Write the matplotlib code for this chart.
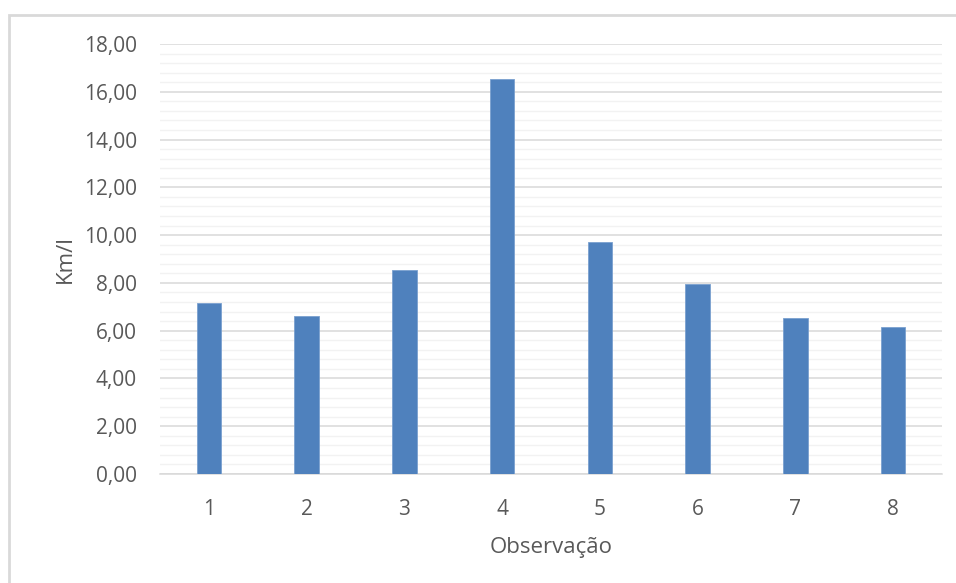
import matplotlib.pyplot as plt
from matplotlib.patches import Rectangle
from matplotlib.ticker import MultipleLocator, FuncFormatter

# Consumo por observação
observacoes = ['1', '2', '3', '4', '5', '6', '7', '8']
km_por_litro = [7.17, 6.62, 8.55, 16.55, 9.70, 7.97, 6.52, 6.14]

cor_barra = '#4f81bd'
cor_texto = '#595959'

plt.rcParams['font.family'] = ['Open Sans', 'DejaVu Sans']

fig = plt.figure(figsize=(9.56, 5.83), dpi=100)
ax = fig.add_axes([160 / 956, 1 - 474 / 583, 782 / 956, 430 / 583])

# moldura cinza clara da área do gráfico
fig.patches.append(Rectangle((9 / 956, -0.05), 1.2, 1 - 15 / 583 + 0.05,
                             transform=fig.transFigure, fill=False,
                             edgecolor='#d9d9d9', linewidth=2))

x = range(len(observacoes))
ax.bar(x, km_por_litro, width=0.25, color=cor_barra, edgecolor='#7aa0cf',
       linewidth=0.6, zorder=3)

ax.set_xlim(-0.5, len(observacoes) - 0.5)
ax.set_ylim(0, 18)
ax.yaxis.set_major_locator(MultipleLocator(2))
ax.yaxis.set_minor_locator(MultipleLocator(0.4))
ax.yaxis.set_major_formatter(FuncFormatter(lambda v, p: f'{v:.2f}'.replace('.', ',')))
ax.set_xticks(list(x))
ax.set_xticklabels(observacoes)

ax.grid(axis='y', which='major', color='#d9d9d9', linewidth=1.1, zorder=0)
ax.grid(axis='y', which='minor', color='#f2f2f2', linewidth=1.0, zorder=0)
ax.tick_params(axis='both', which='both', length=0, colors=cor_texto, labelsize=15)
ax.tick_params(axis='y', pad=16.5)
ax.tick_params(axis='x', pad=18)

for lado in ['top', 'right', 'left']:
    ax.spines[lado].set_visible(False)
ax.spines['bottom'].set_color('#d9d9d9')
ax.spines['bottom'].set_linewidth(1.1)

ax.set_ylabel('Km/l', color=cor_texto, fontsize=16, labelpad=6)
ax.set_xlabel('Observação', color=cor_texto, fontsize=16, labelpad=12)

fig.savefig('out.png', dpi=100)
